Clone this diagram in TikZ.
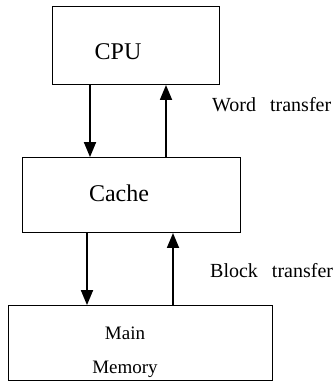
\documentclass[tikz,border=0pt]{standalone}
\usepackage{fontspec}
\setmainfont{Liberation Serif}
\usetikzlibrary{arrows.meta}
\begin{document}
\begin{tikzpicture}[x=1pt,y=1pt,
  box/.style={draw,line width=0.9pt,inner sep=0pt,anchor=south west},
  arr/.style={line width=1.8pt,-{Triangle[length=15pt,width=12pt]}},
  big/.style={font=\fontsize{24}{26}\selectfont,inner sep=0pt,anchor=base},
  mid/.style={font=\fontsize{19}{22}\selectfont,inner sep=0pt,anchor=base},
  lab/.style={font=\fontsize{20}{22}\selectfont,inner sep=0pt,anchor=base west}]
\useasboundingbox (0,0) rectangle (334,382);
\node[box,minimum width=167pt,minimum height=78pt] (cpu) at (52,297) {};
\node[box,minimum width=218pt,minimum height=75pt] (cache) at (22,149) {};
\node[box,minimum width=264pt,minimum height=75pt] (mem) at (8,1) {};
\node[big] (tcpu) at (118,322) {CPU};
\node[big] (tcache) at (119,180) {Cache};
\node[mid] (tmain) at (125,42) {Main};
\node[mid] (tmem) at (125,9) {Memory};
\coordinate (x1) at (90,0);
\coordinate (x2) at (166,0);
\coordinate (x3) at (87,0);
\coordinate (x4) at (173,0);
\draw[arr] (cpu.south -| x1) -- (cache.north -| x1);
\draw[arr] (cache.north -| x2) -- (cpu.south -| x2);
\draw[arr] (cache.south -| x3) -- (mem.north -| x3);
\draw[arr] (mem.north -| x4) -- (cache.south -| x4);
\node[lab] (wt) at (212,270) {Word\hspace{0.45em} transfer};
\node[lab] (bt) at (210,104) {Block\hspace{0.45em} transfer};
\end{tikzpicture}
\end{document}
